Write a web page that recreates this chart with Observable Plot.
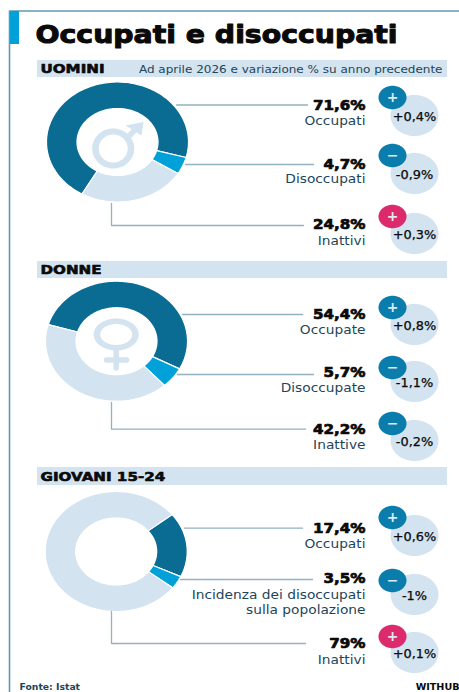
<!DOCTYPE html>
<html lang="it">
<head>
<meta charset="utf-8">
<script src="https://cdn.jsdelivr.net/npm/d3@7"></script>
<script src="https://cdn.jsdelivr.net/npm/@observablehq/plot@0.6"></script>
<style>html,body{margin:0;padding:0;background:#fff}svg{display:block}</style>
</head>
<body>
<div id="chart"></div>
<script>
// ---- data
const titleText = "Occupati e disoccupati";
const noteText = "Ad aprile 2026 e variazione % su anno precedente";
const sourceText = "Fonte: Istat";
const brandText = "WITHUB";
const sections = ["UOMINI", "DONNE", "GIOVANI 15-24"];

const uominiValues = [71.6, 4.7, 24.8];
const donneValues = [54.4, 5.7, 42.2];
const giovaniValues = [17.4, 3.5, 79];

const uominiShown = ["71,6%", "4,7%", "24,8%"];
const donneShown = ["54,4%", "5,7%", "42,2%"];
const giovaniShown = ["17,4%", "3,5%", "79%"];

const uominiNames = ["Occupati", "Disoccupati", "Inattivi"];
const donneNames = ["Occupate", "Disoccupate", "Inattive"];
const giovaniNames = ["Occupati", "Incidenza dei disoccupati\nsulla popolazione", "Inattivi"];

const uominiDelta = ["+0,4%", "-0,9%", "+0,3%"];
const donneDelta = ["+0,8%", "-1,1%", "-0,2%"];
const giovaniDelta = ["+0,6%", "-1%", "+0,1%"];

const uominiSign = ["+", "−", "+"];
const donneSign = ["+", "−", "−"];
const giovaniSign = ["+", "−", "+"];

// ---- layout and style
const W = 459, H = 692;
const C = {dark:"#0b6c93", cyan:"#00a0d8", light:"#d3e3ef", blue:"#0b7dac", pink:"#dc2a6d",
           frame:"#5f9ab3", lead:"#93b1c1", ink:"#0a0a0a", label:"#1d4658"};
const sliceFill = [C.dark, C.cyan, C.light];
const layout = [
  {values:uominiValues, shown:uominiShown, names:uominiNames, delta:uominiDelta, sign:uominiSign,
   band:[60,77], cx:117, cy:141.5, start:-150,
   lead:[[[176,104.5],[307,104.5]],[[185,164],[313,164]],[[111,203],[111,225],[303,225]]],
   val:[105,164,224], name:[120,178,240], bub:[115,173,233], badge:[97,155,216]},
  {values:donneValues, shown:donneShown, names:donneNames, delta:donneDelta, sign:donneSign,
   band:[261,278], cx:116, cy:340.7, start:-74,
   lead:[[[182,314],[302,314]],[[177,374],[313,374]],[[111,402],[111,428.7],[305,428.7]]],
   val:[314,372,429], name:[329,387,444], bub:[324,381,440], badge:[307,367,423]},
  {values:giovaniValues, shown:giovaniShown, names:giovaniNames, delta:giovaniDelta, sign:giovaniSign,
   band:[467,485], cx:115.7, cy:551, start:52,
   lead:[[[184,527.7],[302,527.7]],[[180,579],[312,579]],[[111,611],[111,643],[305,643]]],
   val:[528,578,643], name:[543,594,659], bub:[535,594,652], badge:[517,580,636]}
];
const RX = 71, RY = 60, IRX = 40.5, IRY = 33.5;

// ---- geometry helpers (planar GeoJSON, projected through the x and y scales)
const ellipse = (cx, cy, rx, ry) => {
  const pts = d3.range(0, 73).map(i => {
    const a = i / 72 * 2 * Math.PI;
    return [cx + rx * Math.sin(a), cy - ry * Math.cos(a)];
  });
  return {type:"Polygon", coordinates:[pts]};
};
const sector = (cx, cy, a0, a1) => {
  const n = Math.max(2, Math.ceil((a1 - a0) / 0.03));
  const at = (a, rx, ry) => [cx + rx * Math.sin(a), cy - ry * Math.cos(a)];
  const outer = d3.range(n + 1).map(i => at(a0 + (a1 - a0) * i / n, RX, RY));
  const inner = d3.range(n + 1).map(i => at(a1 - (a1 - a0) * i / n, IRX, IRY));
  return {type:"Polygon", coordinates:[[...outer, ...inner, outer[0]]]};
};
const poly = pts => ({type:"Polygon", coordinates:[[...pts, pts[0]]]});
const ring = (cx, cy, rx, ry, irx, iry) => ({type:"Polygon", coordinates:[
  ellipse(cx, cy, rx, ry).coordinates[0],
  ellipse(cx, cy, irx, iry).coordinates[0].slice().reverse()
]});

// ---- tables derived from the arrays
const slices = layout.flatMap(s => {
  const start = s.start * Math.PI / 180;
  const arcs = d3.pie().sort(null).startAngle(start).endAngle(start + 2 * Math.PI)(s.values);
  return arcs.map((a, i) => ({geometry:sector(s.cx, s.cy, a.startAngle, a.endAngle), fill:sliceFill[i]}));
});
const leaders = layout.flatMap((s, si) => s.lead.flatMap((l, li) =>
  l.map(([x, y]) => ({x, y, z:`${si}-${li}`}))));
const rows = layout.flatMap(s => s.values.map((v, i) => ({
  shown:s.shown[i], name:s.names[i], delta:s.delta[i], sign:s.sign[i],
  badgeFill:(i === 2 && s.sign[i] === "+") ? C.pink : C.blue,
  yVal:s.val[i], yName:s.name[i], yBub:s.bub[i], yBadge:s.badge[i]
})));
const bands = layout.map((s, i) => ({label:sections[i], y1:s.band[0], y2:s.band[1]}));

const NAME_X = 365, BUB_X = 414, BADGE_X = 392;
const iconInk = C.light;
const font = "DejaVu Sans";

// the lettering of the reference is horizontally wide: tag a text mark with its stretch
const wide = k => function(index, scales, values, dims, context, next) {
  const g = next(index, scales, values, dims, context);
  g.setAttribute("data-wide", k);
  return g;
};

const chart = Plot.plot({
  width:W, height:H, margin:0,
  x:{domain:[0,W], range:[0,W], axis:null},
  y:{domain:[0,H], range:[0,H], axis:null},
  style:{background:"#fff"},
  marks:[
    // frame
    Plot.line([[9,692],[9,10.5],[459,10.5]], {stroke:C.frame, strokeWidth:1.6}),
    Plot.rect([0], {x1:10, x2:19, y1:11, y2:44, fill:C.cyan}),
    // section bands
    Plot.rect(bands, {x1:37, x2:447, y1:"y1", y2:"y2", fill:C.light}),
    Plot.text(bands, {x:40, y:d => (d.y1 + d.y2) / 2 + .5, text:"label", textAnchor:"start",
      fontFamily:font, fontWeight:"bold", fontSize:12.2, fill:C.ink, stroke:C.ink, strokeWidth:.6, render:wide(1.24)}),
    Plot.text([noteText], {x:442, y:69.5, text:d => d, textAnchor:"end", fontFamily:font, fontSize:10, fill:C.label, render:wide(1.2)}),
    // title
    Plot.text([titleText], {x:35, y:35, text:d => d, textAnchor:"start", fontFamily:font,
      fontWeight:"bold", fontSize:24, fill:C.ink, stroke:C.ink, strokeWidth:1, render:wide(1.18)}),
    // icons
    Plot.geo([ring(112.7,148,21,20,14.5,14)], {fill:iconInk}),
    Plot.line([[127,137],[137,127]], {stroke:iconInk, strokeWidth:5.5}),
    Plot.geo([poly([[125,125],[143,121.5],[141,135]])], {fill:iconInk}),
    Plot.geo([ring(115.7,334,22.5,16,16,10.5)], {fill:iconInk}),
    Plot.line([[115.7,349],[115.7,367.5]], {stroke:iconInk, strokeWidth:5.5}),
    Plot.line([[106,359.5],[126,359.5]], {stroke:iconInk, strokeWidth:5.5}),
    // doughnuts
    Plot.geo(slices, {geometry:"geometry", fill:"fill", stroke:"#fff", strokeWidth:1.2}),
    // leaders
    Plot.line(leaders, {x:"x", y:"y", z:"z", stroke:C.lead, strokeWidth:1.3, curve:"linear"}),
    // row text
    Plot.text(rows, {x:NAME_X, y:"yVal", text:"shown", textAnchor:"end", fontFamily:font, fontWeight:"bold",
      fontSize:13.4, fill:C.ink, stroke:C.ink, strokeWidth:.7, render:wide(1.13)}),
    Plot.text(rows, {x:NAME_X, y:"yName", text:"name", textAnchor:"end", lineAnchor:"top", dy:-6.5, lineHeight:1.2,
      fontFamily:font, fontSize:12.5, fill:C.label, render:wide(1.1)}),
    // variation bubbles
    Plot.geo(rows.map(r => ellipse(BUB_X, r.yBub, 24, 20.5)), {fill:C.light}),
    Plot.geo(rows.map(r => ({geometry:ellipse(BADGE_X, r.yBadge, 14, 11.7), fill:r.badgeFill})),
      {geometry:"geometry", fill:"fill"}),
    Plot.text(rows, {x:BADGE_X, y:"yBadge", text:"sign", fontFamily:font, fontWeight:"bold", fontSize:14, fill:"#dfeaf2"}),
    Plot.text(rows, {x:BUB_X, y:d => d.yBub + 2, text:"delta", fontFamily:font, fontSize:11.5, fill:C.ink, stroke:C.ink, strokeWidth:.25, render:wide(1.12)}),
    // footer
    Plot.text([sourceText], {x:19, y:686.5, text:d => d, textAnchor:"start", fontFamily:font, fontWeight:"bold", fontSize:8.2, fill:C.label, render:wide(1.13)}),
    Plot.text([brandText], {x:459, y:686.5, text:d => d, textAnchor:"end", fontFamily:font, fontWeight:"bold", fontSize:8, fill:C.ink, render:wide(1.2)})
  ]
});
document.getElementById("chart").append(chart);

// apply the stretch now that the text can be measured
chart.querySelectorAll("g[data-wide]").forEach(g => {
  const k = +g.getAttribute("data-wide");
  g.querySelectorAll("text").forEach(t => {
    const parts = t.querySelectorAll("tspan");
    (parts.length ? [...parts] : [t]).forEach(p => {
      p.setAttribute("textLength", p.getComputedTextLength() * k);
      p.setAttribute("lengthAdjust", "spacingAndGlyphs");
    });
  });
});
</script>
</body>
</html>
